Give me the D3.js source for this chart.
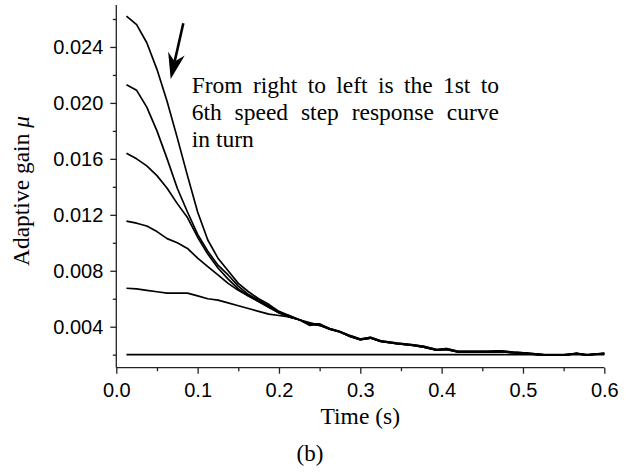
<!DOCTYPE html>
<html>
<head>
<meta charset="utf-8">
<script src="https://cdn.jsdelivr.net/npm/d3@7"></script>
<style>
  body { margin: 0; background: #fff; }
  svg { display: block; }
</style>
</head>
<body>
<div id="chart"></div>
<script>
// time grid for the part where the curves are apart (s)
const headTime = [0.0125, 0.025, 0.0375, 0.05, 0.0625, 0.075, 0.0875, 0.1, 0.1125, 0.125,
  0.1375, 0.15, 0.1625, 0.175, 0.1875, 0.2, 0.2125, 0.225, 0.2375, 0.25];

// adaptive gain for each speed step (6th = top)
const step6Head = [0.0262, 0.0256, 0.0243, 0.0224, 0.0201, 0.0175, 0.0148, 0.0122, 0.0102, 0.0089,
  0.0080, 0.0071, 0.0065, 0.0060, 0.0056, 0.0051, 0.0048, 0.0045, 0.0042, 0.0042];
const step5Head = [0.0213, 0.0209, 0.0197, 0.0180, 0.0160, 0.0139, 0.0122, 0.0106, 0.0094, 0.0084,
  0.0077, 0.0069, 0.0063, 0.0059, 0.0055, 0.0050, 0.0048, 0.0045, 0.0042, 0.0041];
const step4Head = [0.0164, 0.0160, 0.0155, 0.0148, 0.0139, 0.0128, 0.0118, 0.0104, 0.0092, 0.0082,
  0.0074, 0.0067, 0.0062, 0.0058, 0.0054, 0.0050, 0.0047, 0.0045, 0.0042, 0.0041];
const step3Head = [0.01155, 0.0114, 0.0112, 0.0108, 0.0103, 0.0100, 0.0096, 0.0089, 0.0083, 0.0077,
  0.0071, 0.0066, 0.0062, 0.0058, 0.0054, 0.0050, 0.0047, 0.0045, 0.0041, 0.0042];
const step2Head = [0.00675, 0.0067, 0.0066, 0.0065, 0.0064, 0.0064, 0.0064, 0.0062, 0.0060, 0.0059,
  0.0057, 0.0055, 0.0053, 0.0051, 0.0049, 0.0048, 0.0047, 0.0045, 0.0043, 0.0041];

// after ~0.25 s the curves lie on top of each other
const tailTime = [0.2625, 0.275, 0.2875, 0.3, 0.3125, 0.325, 0.345, 0.365, 0.378, 0.394, 0.406, 0.42,
  0.44, 0.456, 0.472, 0.488, 0.505, 0.525, 0.55, 0.566, 0.579, 0.587, 0.6];
const tailUpper = [0.00387, 0.00366, 0.00336, 0.00312, 0.00324, 0.00299, 0.00283, 0.00271, 0.00259, 0.00236,
  0.00243, 0.00224, 0.00224, 0.00223, 0.00227, 0.00218, 0.00211, 0.00200, 0.00199, 0.00210, 0.00199, 0.00205, 0.00210];
const tailLower = [0.00382, 0.00362, 0.00331, 0.00308, 0.00319, 0.00295, 0.00279, 0.00266, 0.00254, 0.00232,
  0.00238, 0.00219, 0.00220, 0.00218, 0.00222, 0.00214, 0.00207, 0.00197, 0.00196, 0.00207, 0.00196, 0.00202, 0.00207];

// 1st step: flat
const step1Time = [0.0125, 0.6];
const step1Value = [0.002, 0.002];

const xTicks = [0, 0.1, 0.2, 0.3, 0.4, 0.5, 0.6];
const xMinor = [0.05, 0.15, 0.25, 0.35, 0.45, 0.55];
const yTicks = [0.004, 0.008, 0.012, 0.016, 0.020, 0.024];
const yMinor = [0.002, 0.006, 0.010, 0.014, 0.018, 0.022, 0.026];

const note = ["From right to left is the 1st to", "6th speed step response curve", "in turn"];

const w = 632;
const h = 472;
const plotLeft = 116.3, plotRight = 604.3, plotTop = 5, plotBottom = 367.7;

function join(head, tail) {
  const pts = headTime.map((t, i) => [t, head[i]]);
  return pts.concat(tailTime.map((t, i) => [t, tail[i]]));
}

const series = [
  step1Time.map((t, i) => [t, step1Value[i]]),
  join(step2Head, tailLower),
  join(step3Head, tailLower),
  join(step4Head, tailLower),
  join(step5Head, tailUpper),
  join(step6Head, tailUpper)
];

const svg = d3.select("#chart").append("svg").attr("width", w).attr("height", h);

const xScale = d3.scaleLinear().domain([0, 0.6]).range([plotLeft, plotRight]);
const yScale = d3.scaleLinear().domain([0.00107, 0.027]).range([plotBottom, plotTop]);

const line = d3.line().x((d) => xScale(d[0])).y((d) => yScale(d[1]));

svg.append("g")
  .selectAll("path")
  .data(series)
  .enter()
  .append("path")
  .attr("d", line)
  .attr("fill", "none")
  .attr("stroke", "#000")
  .attr("stroke-width", 1.7)
  .attr("stroke-linejoin", "round");

// axes
const xAxis = d3.axisBottom(xScale).tickValues(xTicks).tickSize(6).tickPadding(8.8)
  .tickFormat(d3.format(".1f"));
const xAxisMinor = d3.axisBottom(xScale).tickValues(xMinor).tickSize(3.5).tickFormat("");
const yAxis = d3.axisLeft(yScale).tickValues(yTicks).tickSize(6).tickPadding(7)
  .tickFormat(d3.format(".3f"));
const yAxisMinor = d3.axisLeft(yScale).tickValues(yMinor).tickSize(3.5).tickFormat("");

const gx = svg.append("g").attr("transform", "translate(0," + plotBottom + ")").call(xAxis);
svg.append("g").attr("transform", "translate(0," + plotBottom + ")").call(xAxisMinor)
  .select(".domain").remove();
const gy = svg.append("g").attr("transform", "translate(" + plotLeft + ",0)").call(yAxis);
svg.append("g").attr("transform", "translate(" + plotLeft + ",0)").call(yAxisMinor)
  .select(".domain").remove();

gx.select(".domain").attr("d", "M" + plotLeft + ",0H" + plotRight);
gy.select(".domain").attr("d", "M0," + plotTop + "V" + plotBottom);
svg.selectAll(".domain, .tick line").attr("stroke", "#222").attr("stroke-width", 1.3);
svg.selectAll(".tick text")
  .attr("fill", "#000")
  .style("font-family", "'Liberation Sans', Arial, sans-serif")
  .style("font-size", "20px");

// axis titles
svg.append("text")
  .attr("x", (plotLeft + plotRight) / 2)
  .attr("y", 424)
  .attr("text-anchor", "middle")
  .style("font-family", "'Liberation Serif', 'Times New Roman', serif")
  .style("font-size", "23.5px")
  .text("Time (s)");

const yTitle = svg.append("text")
  .attr("transform", "translate(29,191) rotate(-90)")
  .attr("text-anchor", "middle")
  .style("font-family", "'Liberation Serif', 'Times New Roman', serif")
  .style("font-size", "23.5px");
yTitle.append("tspan").text("Adaptive gain ");
yTitle.append("tspan").style("font-style", "italic").text("\u03bc");

svg.append("text")
  .attr("x", 310)
  .attr("y", 461)
  .attr("text-anchor", "middle")
  .style("font-family", "'Liberation Serif', 'Times New Roman', serif")
  .style("font-size", "23px")
  .text("(b)");

// justified annotation
const noteLeft = 191.7, noteRight = 499, noteY = [93.3, 120, 146.7];
note.forEach((txt, li) => {
  const words = txt.split(" ");
  const g = svg.append("g");
  const nodes = words.map((wd) =>
    g.append("text")
      .attr("y", noteY[li])
      .style("font-family", "'Liberation Serif', 'Times New Roman', serif")
      .style("font-size", "23.5px")
      .text(wd)
  );
  const widths = nodes.map((n) => n.node().getComputedTextLength());
  const total = d3.sum(widths);
  const justify = li < note.length - 1;
  const gap = justify ? (noteRight - noteLeft - total) / (words.length - 1) : 6;
  let x = noteLeft;
  nodes.forEach((n, i) => {
    n.attr("x", x);
    x += widths[i] + gap;
  });
});

// arrow pointing down to the curves
const arrowStart = [183.3, 23.3], arrowTip = [170.7, 79];
const dx = arrowTip[0] - arrowStart[0], dy = arrowTip[1] - arrowStart[1];
const len = Math.hypot(dx, dy);
const ux = dx / len, uy = dy / len;
const headLen = 26, headHalf = 8.5, notch = 18;
svg.append("line")
  .attr("x1", arrowStart[0]).attr("y1", arrowStart[1])
  .attr("x2", arrowTip[0] - ux * notch).attr("y2", arrowTip[1] - uy * notch)
  .attr("stroke", "#000").attr("stroke-width", 2.6);
svg.append("path")
  .attr("d",
    "M" + arrowTip[0] + "," + arrowTip[1] +
    "L" + (arrowTip[0] - ux * headLen + uy * headHalf) + "," + (arrowTip[1] - uy * headLen - ux * headHalf) +
    "L" + (arrowTip[0] - ux * notch) + "," + (arrowTip[1] - uy * notch) +
    "L" + (arrowTip[0] - ux * headLen - uy * headHalf) + "," + (arrowTip[1] - uy * headLen + ux * headHalf) + "Z")
  .attr("fill", "#000");
</script>
</body>
</html>
